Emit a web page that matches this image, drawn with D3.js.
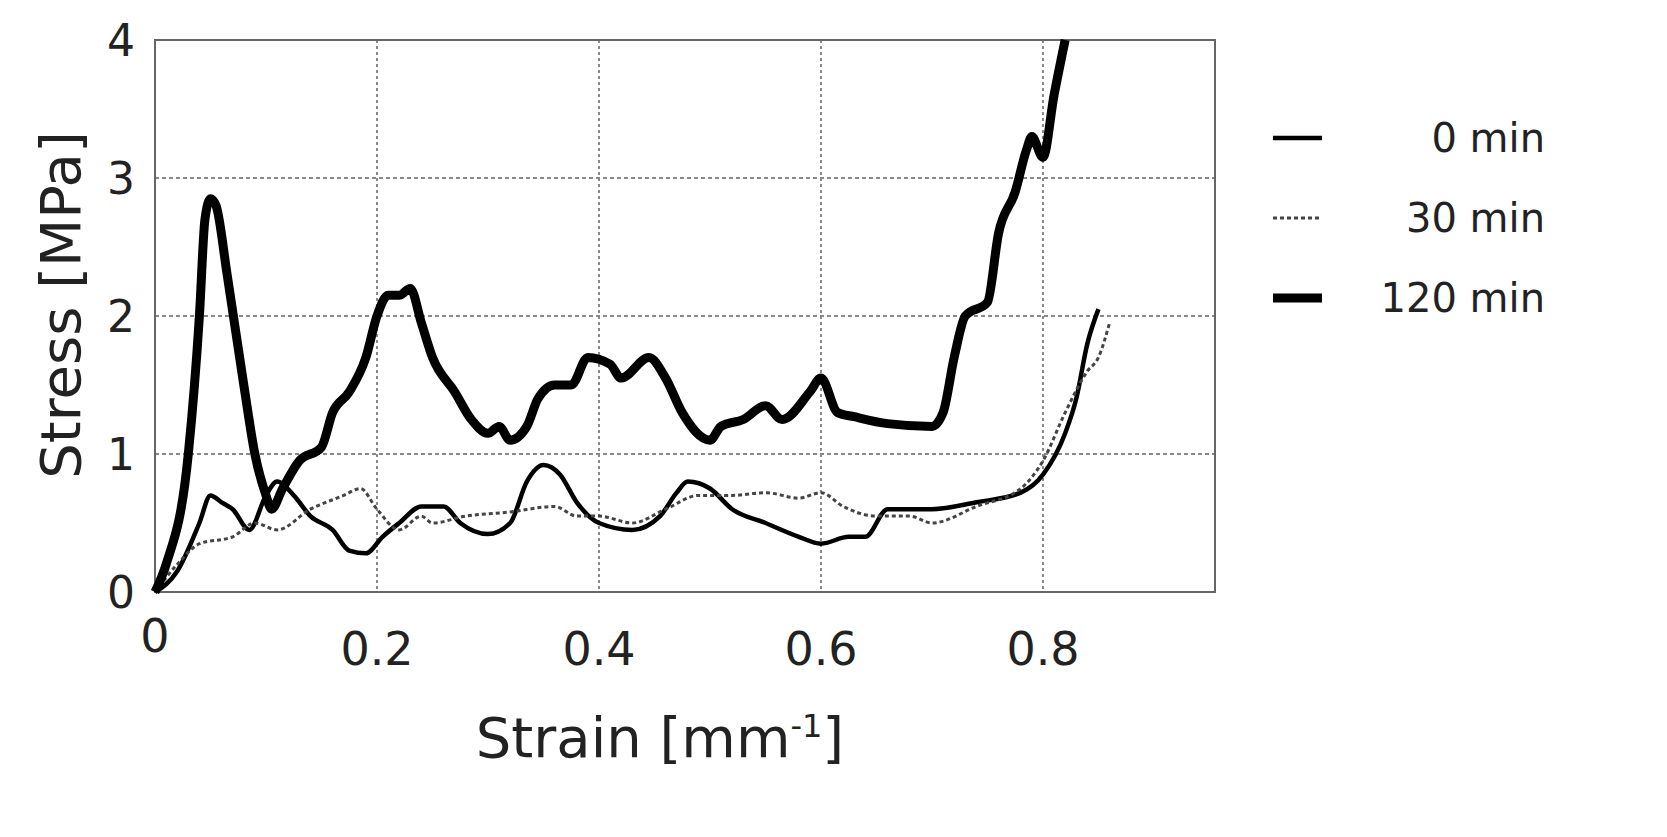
<!DOCTYPE html>
<html><head><meta charset="utf-8">
<script src="https://cdn.jsdelivr.net/npm/d3@7"></script>
<style>body{margin:0;background:#fff}text{font-family:"DejaVu Sans",sans-serif;fill:#222}</style>
</head><body>
<script>
// strain values and stress [MPa]
var s0x = [0,0.02,0.04,0.05,0.06,0.07,0.085,0.1,0.11,0.125,0.14,0.16,0.175,0.19,0.205,0.22,0.24,0.26,0.275,0.3,0.32,0.335,0.35,0.365,0.38,0.4,0.43,0.455,0.47,0.48,0.5,0.52,0.55,0.58,0.6,0.625,0.64,0.66,0.7,0.74,0.78,0.8,0.82,0.83,0.84,0.85]
var s0y = [0,0.15,0.5,0.7,0.65,0.6,0.45,0.7,0.8,0.7,0.55,0.45,0.3,0.28,0.4,0.5,0.62,0.62,0.5,0.42,0.5,0.8,0.92,0.85,0.65,0.5,0.45,0.55,0.72,0.8,0.75,0.6,0.5,0.4,0.35,0.4,0.4,0.6,0.6,0.65,0.72,0.85,1.15,1.4,1.8,2.05]
var s30x = [0,0.02,0.04,0.07,0.09,0.11,0.14,0.17,0.185,0.2,0.22,0.24,0.25,0.28,0.32,0.36,0.38,0.4,0.43,0.46,0.49,0.52,0.55,0.58,0.6,0.62,0.65,0.68,0.7,0.74,0.78,0.8,0.82,0.84,0.85,0.86]
var s30y = [0,0.2,0.35,0.4,0.5,0.45,0.6,0.7,0.75,0.6,0.45,0.55,0.5,0.55,0.58,0.62,0.55,0.55,0.5,0.6,0.7,0.7,0.72,0.68,0.72,0.62,0.55,0.55,0.5,0.62,0.75,0.95,1.3,1.6,1.7,1.95]
var s120x = [0,0.01,0.03,0.04,0.045,0.05,0.055,0.065,0.08,0.09,0.1,0.105,0.115,0.13,0.15,0.16,0.175,0.19,0.2,0.21,0.22,0.23,0.24,0.25,0.27,0.285,0.3,0.31,0.32,0.335,0.345,0.36,0.375,0.39,0.41,0.42,0.445,0.46,0.475,0.5,0.51,0.53,0.55,0.565,0.59,0.6,0.615,0.63,0.66,0.7,0.71,0.72,0.73,0.75,0.76,0.775,0.785,0.79,0.8,0.81,0.82]
var s120y = [0,0.2,1.0,2.0,2.7,2.85,2.8,2.3,1.5,1.0,0.7,0.6,0.75,0.95,1.05,1.3,1.45,1.7,2.0,2.15,2.15,2.2,1.95,1.7,1.45,1.25,1.15,1.2,1.1,1.2,1.4,1.5,1.5,1.7,1.65,1.55,1.7,1.55,1.3,1.1,1.2,1.25,1.35,1.25,1.45,1.55,1.3,1.27,1.22,1.2,1.3,1.7,2.0,2.1,2.6,2.9,3.2,3.3,3.15,3.6,4.0]
var xTicks = [0,0.2,0.4,0.6,0.8]
var yTicks = [0,1,2,3,4]
var seriesNames = ["0 min","30 min","120 min"]

var svg = d3.select("body").append("svg").attr("width",1667).attr("height",837)
var x = d3.scaleLinear().domain([0,0.955]).range([155,1215])
var y = d3.scaleLinear().domain([0,4]).range([592,40])

// grid
svg.selectAll(".gx").data(xTicks.slice(1)).enter().append("line")
  .attr("x1",d=>x(d)).attr("x2",d=>x(d)).attr("y1",40).attr("y2",592)
  .attr("stroke","#888").attr("stroke-width",2).attr("stroke-dasharray","3,3")
svg.selectAll(".gy").data(yTicks.slice(1,4)).enter().append("line")
  .attr("x1",155).attr("x2",1215).attr("y1",d=>y(d)).attr("y2",d=>y(d))
  .attr("stroke","#888").attr("stroke-width",2).attr("stroke-dasharray","4,3")
svg.append("rect").attr("x",155).attr("y",40).attr("width",1060).attr("height",552)
  .attr("fill","none").attr("stroke","#666").attr("stroke-width",2)

svg.selectAll(".tx").data(xTicks).enter().append("text")
  .attr("x",d=>x(d)).attr("y",d=>d===0?652:665).attr("text-anchor","middle").attr("font-size",46)
  .text(d=>d===0?"0":d3.format(".1f")(d))
svg.selectAll(".ty").data(yTicks).enter().append("text")
  .attr("x",135).attr("y",d=>y(d)+16).attr("text-anchor","end").attr("font-size",44).text(d=>d)

var xt = svg.append("text").attr("x",660).attr("y",757).attr("text-anchor","middle").attr("font-size",56)
xt.append("tspan").text("Strain [mm")
xt.append("tspan").attr("dy",-20).attr("font-size",32).text("-1")
xt.append("tspan").attr("dy",20).text("]")
svg.append("text").attr("transform","translate(80,305) rotate(-90)").attr("text-anchor","middle")
  .attr("font-size",56).text("Stress [MPa]")

var line = d3.line().x(d=>x(d[0])).y(d=>y(d[1])).curve(d3.curveMonotoneX)
var styles = [{w:4.5,dash:null},{w:3,dash:"4,3"},{w:9,dash:null}]
var data = [d3.zip(s0x,s0y), d3.zip(s30x,s30y), d3.zip(s120x,s120y)]
data.forEach(function(d,i){
  svg.append("path").datum(d).attr("d",line).attr("fill","none")
    .attr("stroke",i==1?"#444":"#000").attr("stroke-width",styles[i].w)
    .attr("stroke-dasharray",styles[i].dash).attr("stroke-linejoin","round")
})

seriesNames.forEach(function(n,i){
  var ly = 138 + i*80
  svg.append("line").attr("x1",1273).attr("x2",1322).attr("y1",ly).attr("y2",ly)
    .attr("stroke",i==1?"#444":"#000").attr("stroke-width",styles[i].w).attr("stroke-dasharray",styles[i].dash)
  svg.append("text").attr("x",1545).attr("y",ly+14).attr("text-anchor","end").attr("font-size",40).text(n)
})
</script>
</body></html>
